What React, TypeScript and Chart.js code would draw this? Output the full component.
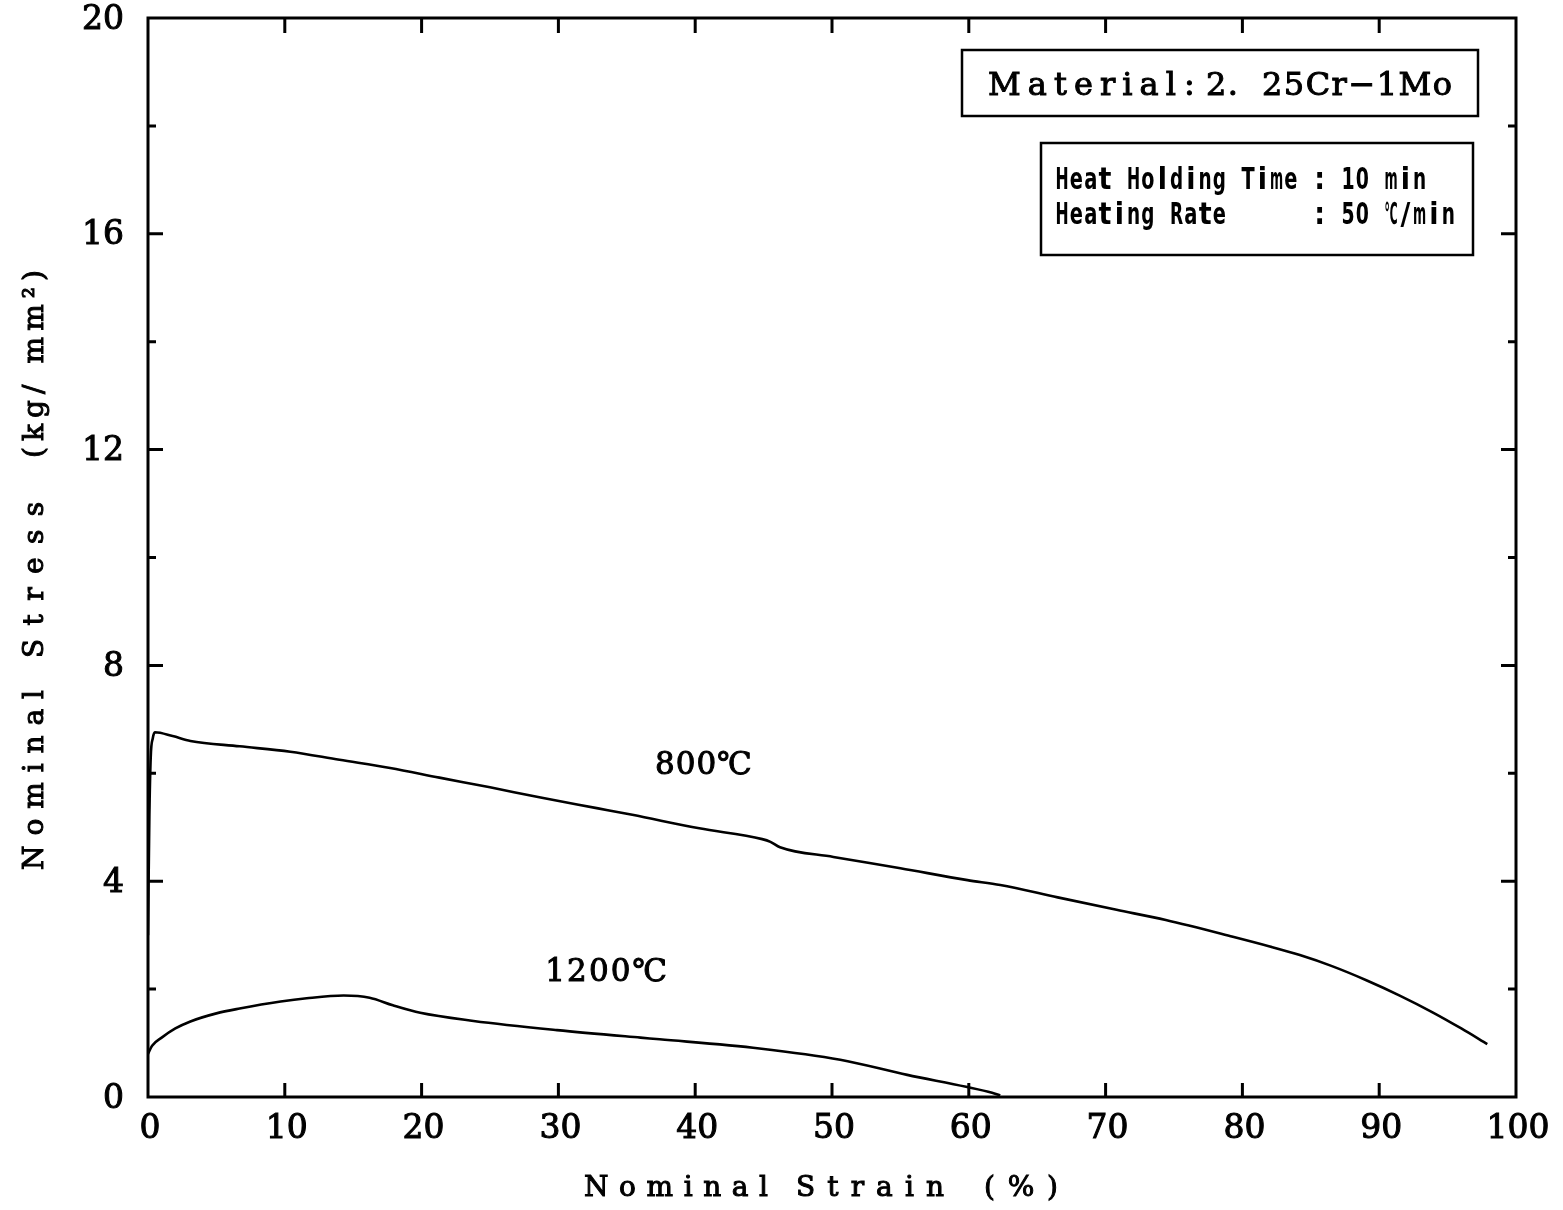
import React, { useEffect, useRef } from "react";
import { Chart, registerables } from "chart.js";

Chart.register(...registerables);

// ---------- data ----------
const strain800 = [0, 0.1, 0.2, 0.35, 0.5, 1.8, 3.1, 6.7, 10.4, 14.0, 17.7, 21.3, 25.0, 28.7, 32.9, 35.4, 40.3, 44.9, 45.5, 46.2, 50.1, 55.0, 59.9, 62.3, 66.5, 70.8, 74.4, 79.3, 82.0, 84.2, 86.5, 89.1, 91.5, 93.9, 96.0, 97.9];
const stress800 = [3.0, 5.2, 6.3, 6.65, 6.76, 6.69, 6.60, 6.50, 6.40, 6.25, 6.10, 5.92, 5.74, 5.55, 5.35, 5.23, 4.98, 4.78, 4.73, 4.63, 4.45, 4.24, 4.02, 3.93, 3.70, 3.47, 3.28, 2.97, 2.79, 2.63, 2.43, 2.16, 1.88, 1.57, 1.27, 0.98];

const strain1200 = [0, 0.3, 1.0, 2.0, 3.1, 5.0, 6.7, 9.7, 11.6, 14.3, 16.2, 17.9, 19.9, 23.8, 29.9, 36.0, 37.4, 44.7, 50.6, 55.5, 59.8, 61.7, 62.3];
const stress1200 = [0.8, 0.95, 1.1, 1.27, 1.40, 1.55, 1.64, 1.77, 1.83, 1.88, 1.84, 1.70, 1.56, 1.41, 1.24, 1.10, 1.07, 0.90, 0.69, 0.41, 0.19, 0.08, 0.03];

const seriesNames = ["800℃", "1200℃"];
const xTickValues = [0, 10, 20, 30, 40, 50, 60, 70, 80, 90, 100];
const yLabelValues = [0, 4, 8, 12, 16, 20];
const yMinorTicks = [2, 4, 6, 8, 10, 12, 14, 16, 18];

const xTitleWords = ["Nominal", "Strain", "(%)"];
const yTitleWords = ["Nominal", "Stress", "(kg/ mm²)"];
const materialParts = ["Material", ":", "2.", "25Cr−1Mo"];
const conditionLines = ["Heat Holding Time : 10 min", "Heating Rate      : 50 ℃/min"];

// ---------- layout (pixels) ----------
const W = 1563;
const H = 1210;
const INK = "#000";
const SERIF = "'DejaVu Serif', 'Liberation Serif', serif";
const HEAVY = 1.0; // extra stroke to mimic the scanned, medium-weight print

// curve label anchors in data coordinates
const seriesLabelPos = [
  { x: 40.6, y: 6.14, w: 97 },
  { x: 33.5, y: 2.3, w: 122 },
];

function inkText(ctx: CanvasRenderingContext2D, t: string, x: number, y: number) {
  ctx.fillText(t, x, y);
  ctx.lineWidth = HEAVY;
  ctx.strokeText(t, x, y);
}

function drawSpaced(ctx: CanvasRenderingContext2D, text: string, x0: number, cy: number, width: number) {
  const chars = Array.from(text);
  const ws = chars.map((c) => ctx.measureText(c).width);
  const sum = ws.reduce((a, b) => a + b, 0);
  const gap = chars.length > 1 ? (width - sum) / (chars.length - 1) : 0;
  let x = x0;
  ctx.textAlign = "left";
  ctx.textBaseline = "middle";
  chars.forEach((c, i) => {
    inkText(ctx, c, x, cy);
    x += ws[i] + gap;
  });
}

function drawMono(ctx: CanvasRenderingContext2D, text: string, x0: number, cy: number, pitch: number) {
  const chars = Array.from(text);
  ctx.textAlign = "center";
  ctx.textBaseline = "middle";
  chars.forEach((c, i) => {
    if (c === " ") return;
    const w = ctx.measureText(c).width;
    const cx = x0 + (i + 0.5) * pitch;
    const maxW = pitch * 0.92;
    if (w > maxW) {
      ctx.save();
      ctx.translate(cx, cy);
      ctx.scale(maxW / w, 1);
      ctx.fillText(c, 0, 0);
      ctx.restore();
    } else {
      ctx.fillText(c, cx, cy);
    }
  });
}

const overlayPlugin = {
  id: "overlay",
  afterDraw(chart: any) {
    const ctx: CanvasRenderingContext2D = chart.ctx;
    const a = chart.chartArea;
    const xs = chart.scales.x;
    const ys = chart.scales.y;
    ctx.save();
    ctx.strokeStyle = INK;
    ctx.fillStyle = INK;

    // frame
    ctx.lineWidth = 3;
    ctx.strokeRect(a.left, a.top, a.right - a.left, a.bottom - a.top);

    // inward tick marks
    ctx.lineWidth = 3;
    ctx.beginPath();
    xTickValues.forEach((v) => {
      if (v <= 0 || v >= 100) return;
      const px = xs.getPixelForValue(v);
      ctx.moveTo(px, a.bottom);
      ctx.lineTo(px, a.bottom - 14);
      ctx.moveTo(px, a.top);
      ctx.lineTo(px, a.top + 15);
    });
    yMinorTicks.forEach((v) => {
      const py = ys.getPixelForValue(v);
      const len = v % 4 === 0 ? 15 : 8;
      ctx.moveTo(a.left, py);
      ctx.lineTo(a.left + len, py);
      ctx.moveTo(a.right, py);
      ctx.lineTo(a.right - len, py);
    });
    ctx.stroke();

    // tick labels
    ctx.font = `33px ${SERIF}`;
    ctx.textBaseline = "middle";
    ctx.textAlign = "center";
    xTickValues.forEach((v) => {
      inkText(ctx, String(v), xs.getPixelForValue(v) + 2, a.bottom + 32);
    });
    ctx.textAlign = "right";
    yLabelValues.forEach((v) => {
      inkText(ctx, String(v), a.left - 24, ys.getPixelForValue(v) + 2);
    });

    // x title
    ctx.font = `28px ${SERIF}`;
    const xRanges = [[584, 768], [796, 944], [984, 1058]];
    xTitleWords.forEach((w, i) => drawSpaced(ctx, w, xRanges[i][0], 1189, xRanges[i][1] - xRanges[i][0]));

    // y title (rotated)
    ctx.save();
    ctx.translate(36, 870);
    ctx.rotate(-Math.PI / 2);
    const yRanges = [[0, 180], [212, 368], [412, 600]];
    yTitleWords.forEach((w, i) => drawSpaced(ctx, w, yRanges[i][0], 0, yRanges[i][1] - yRanges[i][0]));
    ctx.restore();

    // material box
    ctx.lineWidth = 2.5;
    ctx.strokeRect(962, 50, 516, 66);
    ctx.font = `32px ${SERIF}`;
    const mRanges = [[988, 1176], [1184, 1196], [1206, 1238], [1262, 1452]];
    materialParts.forEach((p, i) => drawSpaced(ctx, p, mRanges[i][0], 87, mRanges[i][1] - mRanges[i][0]));

    // condition box
    ctx.lineWidth = 2.5;
    ctx.strokeRect(1041, 143, 432, 112);
    ctx.font = `bold 30px 'DejaVu Sans Condensed', 'Liberation Sans Narrow', 'DejaVu Sans', sans-serif`;
    drawMono(ctx, conditionLines[0], 1055, 181, 14.3);
    drawMono(ctx, conditionLines[1], 1055, 216, 14.3);

    // curve labels
    ctx.font = `31px ${SERIF}`;
    seriesNames.forEach((n, i) => {
      const p = seriesLabelPos[i];
      const cx = xs.getPixelForValue(p.x);
      const cy = ys.getPixelForValue(p.y);
      drawSpaced(ctx, n, cx - p.w / 2, cy, p.w);
    });

    ctx.restore();
  },
};

export default function App() {
  const ref = useRef<HTMLCanvasElement | null>(null);

  useEffect(() => {
    if (!ref.current) return;
    const chart = new Chart(ref.current, {
      type: "line",
      data: {
        datasets: [
          {
            label: seriesNames[0],
            data: strain800.map((s, i) => ({ x: s, y: stress800[i] })),
            borderColor: INK,
            borderWidth: 2.6,
            pointRadius: 0,
            cubicInterpolationMode: "monotone",
            fill: false,
          },
          {
            label: seriesNames[1],
            data: strain1200.map((s, i) => ({ x: s, y: stress1200[i] })),
            borderColor: INK,
            borderWidth: 2.6,
            pointRadius: 0,
            cubicInterpolationMode: "monotone",
            fill: false,
          },
        ],
      },
      options: {
        responsive: false,
        animation: false,
        devicePixelRatio: 1,
        layout: { padding: { left: 0, top: 18, right: 47, bottom: 0 } },
        plugins: { legend: { display: false }, tooltip: { enabled: false }, title: { display: false } },
        scales: {
          x: {
            type: "linear",
            min: 0,
            max: 100,
            ticks: { display: false, stepSize: 10 },
            grid: { display: false, drawTicks: false },
            border: { display: false },
            afterFit: (s: any) => {
              s.height = 113;
            },
          },
          y: {
            type: "linear",
            min: 0,
            max: 20,
            ticks: { display: false, stepSize: 4 },
            grid: { display: false, drawTicks: false },
            border: { display: false },
            afterFit: (s: any) => {
              s.width = 148;
            },
          },
        },
      },
      plugins: [overlayPlugin],
    });
    return () => chart.destroy();
  }, []);

  return (
    <div style={{ position: "absolute", left: 0, top: 0, width: W, height: H, background: "#fff" }}>
      <canvas ref={ref} width={W} height={H} style={{ display: "block", width: W, height: H }} />
    </div>
  );
}
